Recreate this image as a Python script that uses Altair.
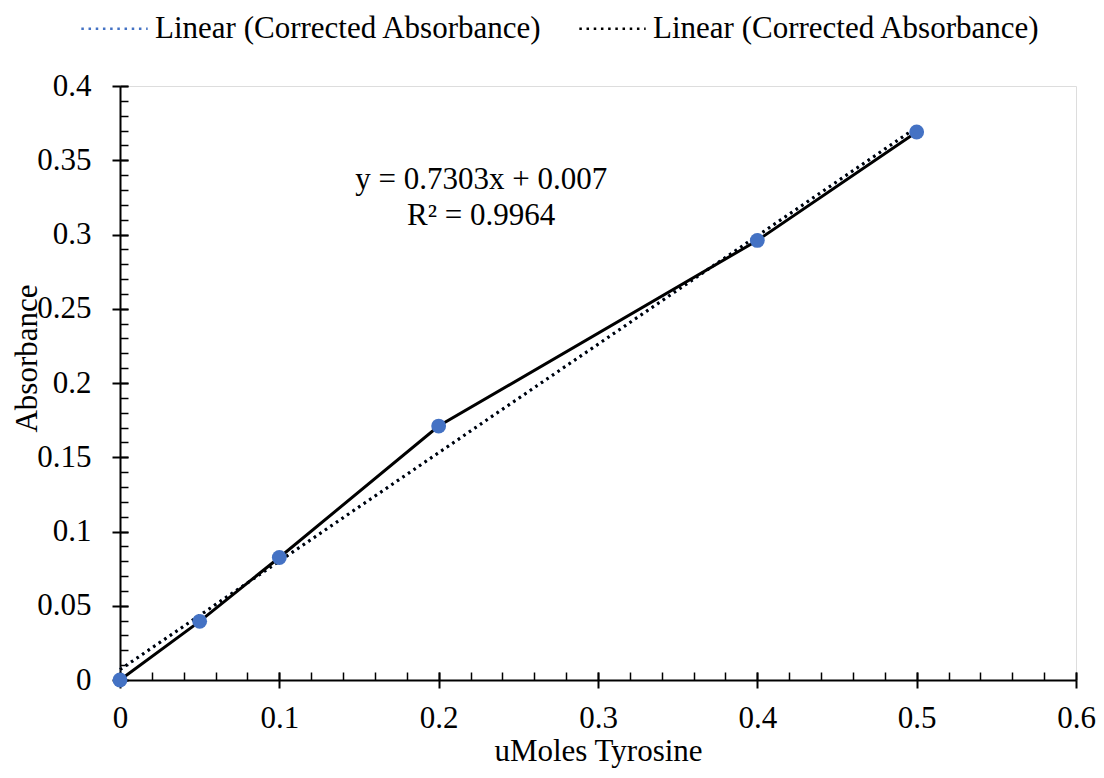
import altair as alt
import pandas as pd

# Data
umoles = [0.0, 0.05, 0.1, 0.2, 0.4, 0.5]
absorbance = [0.0, 0.0395, 0.0825, 0.171, 0.296, 0.369]

# Trendline (Excel linear fit shown on chart)
slope = 0.7303
intercept = 0.007
trend_x = [0.0, 0.5]
series_keys = ["a_blue", "b_black"]
series_colors = ["#4472C4", "#000000"]
legend_label = "Linear (Corrected Absorbance)"

eq_text = "y = 0.7303x + 0.007\nR\u00b2 = 0.9964"
eq_x = 0.2267
eq_y = 0.3306

x_major = [0, 0.1, 0.2, 0.3, 0.4, 0.5, 0.6]
x_minor = [round(i * 0.02, 2) for i in range(31)]
y_major = [0, 0.05, 0.1, 0.15, 0.2, 0.25, 0.3, 0.35, 0.4]
y_minor = [round(i * 0.01, 2) for i in range(41)]

FONT = "Liberation Serif"
FS = 31
TICK = 8

df = pd.DataFrame({"x": umoles, "y": absorbance})
trend_rows = []
for k in series_keys:
    for tx in trend_x:
        trend_rows.append({"x": tx, "y": slope * tx + intercept, "series": k})
df_trend = pd.DataFrame(trend_rows)
df_text = pd.DataFrame({"x": [eq_x], "y": [eq_y], "t": [eq_text]})

xscale = alt.Scale(domain=[0, 0.6], nice=False, zero=False)
yscale = alt.Scale(domain=[0, 0.4], nice=False, zero=False)

common = dict(domainColor="black", domainWidth=2, tickColor="black", tickWidth=2,
              grid=False, labelFont=FONT, labelFontSize=FS, labelColor="black",
              titleFont=FONT, titleFontSize=FS, titleColor="black", titleFontWeight="normal")

x_axis_main = alt.Axis(orient="bottom", values=x_major, format="~g", tickSize=TICK,
                       labelPadding=15, title="uMoles Tyrosine", titleY=80,
                       titleBaseline="alphabetic", labelFlush=False, labelOverlap=False, **common)
y_axis_main = alt.Axis(orient="left", values=y_major, format="~g", tickSize=TICK,
                       labelPadding=21, title="Absorbance", titleX=-84, titleY=272,
                       titleBaseline="alphabetic", titleAngle=270, labelFlush=False,
                       labelOverlap=False, **common)
x_axis_in = alt.Axis(orient="bottom", values=x_major, tickSize=TICK, offset=-TICK,
                     labels=False, domain=False, title=None, grid=False,
                     tickColor="black", tickWidth=2)
y_axis_in = alt.Axis(orient="left", values=y_major, tickSize=TICK, offset=-TICK,
                     labels=False, domain=False, title=None, grid=False,
                     tickColor="black", tickWidth=2)
x_axis_minor = alt.Axis(orient="bottom", values=x_minor, tickSize=TICK, offset=-TICK,
                        labels=False, domain=False, title=None, grid=False,
                        tickColor="black", tickWidth=1.5)
y_axis_minor = alt.Axis(orient="left", values=y_minor, tickSize=TICK, offset=-TICK,
                        labels=False, domain=False, title=None, grid=False,
                        tickColor="black", tickWidth=1.5)

trend = alt.Chart(df_trend).mark_line(strokeWidth=3, strokeDash=[2.5, 4.2]).encode(
    x=alt.X("x:Q", scale=xscale, axis=x_axis_main),
    y=alt.Y("y:Q", scale=yscale, axis=y_axis_main),
    color=alt.Color("series:N",
                    scale=alt.Scale(domain=series_keys, range=series_colors),
                    legend=alt.Legend(orient="none", direction="horizontal", title=None,
                                      legendX=-40, legendY=-92,
                                      labelExpr="'" + legend_label + "'",
                                      labelFont=FONT, labelFontSize=FS, labelColor="black",
                                      labelLimit=600, labelOffset=6, columnPadding=31,
                                      symbolType="stroke", symbolSize=4400,
                                      symbolStrokeWidth=2.6, symbolDash=[2.5, 4.7], padding=0)),
    detail="series:N",
)

line = alt.Chart(df).mark_line(color="black", strokeWidth=3).encode(
    x=alt.X("x:Q", scale=xscale, axis=x_axis_in),
    y=alt.Y("y:Q", scale=yscale, axis=y_axis_in),
)

points = alt.Chart(df).mark_circle(color="#4472C4", size=220, opacity=1).encode(
    x=alt.X("x:Q", scale=xscale, axis=x_axis_minor),
    y=alt.Y("y:Q", scale=yscale, axis=y_axis_minor),
)

text = alt.Chart(df_text).mark_text(font=FONT, fontSize=FS, color="black", align="center",
                                    baseline="alphabetic", lineBreak="\n", lineHeight=36).encode(
    x=alt.X("x:Q", scale=xscale, axis=None),
    y=alt.Y("y:Q", scale=yscale, axis=None),
    text="t:N",
)

chart = alt.layer(trend, line, points, text).resolve_axis(
    x="independent", y="independent"
).properties(
    width=956, height=594,
    autosize=alt.AutoSizeParams(type="none"),
    padding={"left": 112, "top": 78, "right": 20, "bottom": 90},
).configure_view(stroke=None).configure(background="white")

chart.save("out.html", embed_options={"renderer": "svg", "actions": False})
